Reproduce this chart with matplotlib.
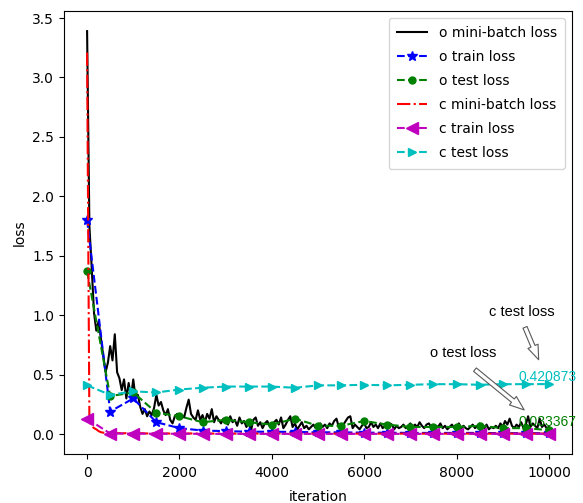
import numpy as np
import matplotlib
matplotlib.use("Agg")
import matplotlib.pyplot as plt

# ---- data ----
batch_step = 50
eval_step = 500
n_iter = 10000

o_minibatch = [
    3.39, 1.75, 1.40, 1.02, 0.87, 0.95, 0.80, 0.66, 0.52, 0.60,
    0.74, 0.62, 0.84, 0.52, 0.47, 0.37, 0.46, 0.30, 0.43, 0.31,
    0.46, 0.30, 0.33, 0.23, 0.17, 0.21, 0.15, 0.19, 0.16, 0.22,
    0.33, 0.24, 0.27, 0.20, 0.16, 0.21, 0.12, 0.09, 0.15, 0.17,
    0.13, 0.16, 0.14, 0.22, 0.29, 0.17, 0.14, 0.12, 0.20, 0.12,
    0.16, 0.10, 0.17, 0.13, 0.21, 0.10, 0.15, 0.12, 0.09, 0.13,
    0.11, 0.08, 0.15, 0.10, 0.12, 0.07, 0.14, 0.09, 0.11, 0.06,
    0.10, 0.03, 0.12, 0.14, 0.07, 0.10, 0.05, 0.09, 0.11, 0.07,
    0.06, 0.10, 0.12, 0.08, 0.14, 0.05, 0.08, 0.12, 0.15, 0.06,
    0.09, 0.04, 0.07, 0.10, 0.05, 0.07, 0.04, 0.06, 0.08, 0.05,
    0.07, 0.09, 0.06, 0.08, 0.05, 0.09, 0.07, 0.11, 0.13, 0.06,
    0.05, 0.08, 0.11, 0.14, 0.15, 0.05, 0.08, 0.06, 0.04, 0.07,
    0.09, 0.05, 0.06, 0.10, 0.06, 0.08, 0.05, 0.09, 0.05, 0.07,
    0.06, 0.09, 0.08, 0.04, 0.07, 0.05, 0.06, 0.08, 0.05, 0.07,
    0.09, 0.06, 0.08, 0.06, 0.10, 0.07, 0.05, 0.08, 0.09, 0.06,
    0.05, 0.07, 0.06, 0.09, 0.05, 0.07, 0.04, 0.06, 0.08, 0.05,
    0.06, 0.09, 0.05, 0.07, 0.05, 0.04, 0.06, 0.08, 0.05, 0.07,
    0.09, 0.06, 0.05, 0.08, 0.04, 0.06, 0.05, 0.07, 0.05, 0.09,
    0.06, 0.11, 0.08, 0.13, 0.07, 0.05, 0.08, 0.06, 0.10, 0.05,
    0.08, 0.15, 0.06, 0.09, 0.07, 0.05, 0.13, 0.06, 0.08, 0.05,
    0.06,
]

c_minibatch = [
    3.21, 0.10, 0.07, 0.05, 0.040, 0.025, 0.016, 0.012, 0.010, 0.009,
    0.010, 0.008, 0.009, 0.007, 0.008, 0.006, 0.007, 0.008, 0.006, 0.007,
    0.006, 0.007, 0.005, 0.006, 0.008, 0.006, 0.005, 0.007, 0.006, 0.005,
    0.006, 0.005, 0.007, 0.006, 0.005, 0.006, 0.004, 0.006, 0.005, 0.006,
    0.005, 0.006, 0.005, 0.004, 0.006, 0.005, 0.007, 0.005, 0.004, 0.005,
    0.006, 0.004, 0.005, 0.006, 0.005, 0.004, 0.005, 0.006, 0.004, 0.005,
    0.005, 0.004, 0.006, 0.005, 0.004, 0.005, 0.004, 0.006, 0.005, 0.004,
    0.005, 0.004, 0.005, 0.006, 0.004, 0.005, 0.004, 0.005, 0.004, 0.005,
    0.004, 0.005, 0.004, 0.006, 0.004, 0.005, 0.004, 0.004, 0.005, 0.004,
    0.005, 0.004, 0.005, 0.004, 0.004, 0.005, 0.004, 0.005, 0.004, 0.004,
    0.005, 0.004, 0.004, 0.005, 0.004, 0.004, 0.005, 0.004, 0.004, 0.005,
    0.004, 0.004, 0.005, 0.004, 0.004, 0.005, 0.004, 0.004, 0.005, 0.004,
    0.004, 0.005, 0.004, 0.004, 0.004, 0.005, 0.004, 0.004, 0.004, 0.005,
    0.004, 0.004, 0.004, 0.005, 0.004, 0.004, 0.004, 0.005, 0.004, 0.004,
    0.004, 0.004, 0.005, 0.004, 0.004, 0.004, 0.004, 0.005, 0.004, 0.004,
    0.004, 0.004, 0.004, 0.005, 0.004, 0.004, 0.004, 0.004, 0.005, 0.004,
    0.004, 0.004, 0.004, 0.004, 0.005, 0.004, 0.004, 0.004, 0.004, 0.004,
    0.005, 0.004, 0.004, 0.004, 0.004, 0.004, 0.005, 0.004, 0.004, 0.004,
    0.004, 0.004, 0.004, 0.005, 0.004, 0.004, 0.004, 0.004, 0.004, 0.004,
    0.005, 0.004, 0.004, 0.004, 0.004, 0.004, 0.004, 0.005, 0.004, 0.004,
    0.004,
]

o_train = [1.80, 0.19, 0.30, 0.10, 0.05, 0.03, 0.025, 0.02, 0.02, 0.018, 0.015,
           0.015, 0.012, 0.012, 0.010, 0.010, 0.010, 0.010, 0.008, 0.008, 0.008]
o_test = [1.37, 0.32, 0.35, 0.18, 0.15, 0.10, 0.12, 0.10, 0.08, 0.13, 0.07,
          0.07, 0.11, 0.08, 0.06, 0.06, 0.06, 0.07, 0.05, 0.05, 0.033367]
c_train = [0.13, 0.005, 0.004, 0.003, 0.003, 0.002, 0.002, 0.002, 0.002, 0.002, 0.002,
           0.002, 0.002, 0.002, 0.002, 0.002, 0.002, 0.002, 0.002, 0.002, 0.002]
c_test = [0.41, 0.33, 0.36, 0.35, 0.375, 0.39, 0.40, 0.40, 0.40, 0.39, 0.41,
          0.41, 0.415, 0.41, 0.415, 0.42, 0.42, 0.415, 0.42, 0.42, 0.420873]

labels = ["o mini-batch loss", "o train loss", "o test loss",
          "c mini-batch loss", "c train loss", "c test loss"]

it_batch = np.arange(0, n_iter + 1, batch_step)
it_eval = np.arange(0, n_iter + 1, eval_step)

# ---- figure ----
fig = plt.figure(figsize=(5.83, 5.03), dpi=100)
ax = fig.add_axes([64 / 583, 49 / 503, 508 / 583, 443 / 503])

ax.plot(it_batch, o_minibatch, 'k-', label=labels[0])
ax.plot(it_eval, o_train, 'b--*', markersize=7, label=labels[1])
ax.plot(it_eval, o_test, 'g--o', markersize=5, label=labels[2])
ax.plot(it_batch, c_minibatch, 'r-.', label=labels[3])
ax.plot(it_eval, c_train, 'm--<', markersize=8, label=labels[4])
ax.plot(it_eval, c_test, 'c-->', markersize=6, label=labels[5])

ax.set_xlabel("iteration", labelpad=7)
ax.set_ylabel("loss")
ax.tick_params(axis="x", pad=5)
ax.legend(loc="upper right", labelspacing=0.72, borderpad=0.6, handlelength=2.2)

arrow_style = "simple,head_length=1.0,head_width=0.75,tail_width=0.3"
ax.annotate("c test loss", xy=(it_eval[-1], c_test[-1]), xytext=(8700, 0.99),
            family="Liberation Sans", fontsize=10.5,
            arrowprops=dict(arrowstyle=arrow_style, fc="white", ec="0.35", lw=0.8,
                            shrinkA=4, shrinkB=19, relpos=(0.5, 0.0)))
ax.annotate("o test loss", xy=(it_eval[-1], o_test[-1]), xytext=(7420, 0.65),
            family="Liberation Sans", fontsize=10.5,
            arrowprops=dict(arrowstyle=arrow_style, fc="white", ec="0.35", lw=0.8,
                            shrinkA=8, shrinkB=23, relpos=(0.5, 0.0)))

ax.text(9350, c_test[-1] + 0.03, f"{c_test[-1]:g}", color="c",
        family="Liberation Sans", fontsize=10)
ax.text(9350, o_test[-1] + 0.033, f"{o_test[-1]:g}", color="g",
        family="Liberation Sans", fontsize=10)

fig.savefig("out.png", dpi=100)
